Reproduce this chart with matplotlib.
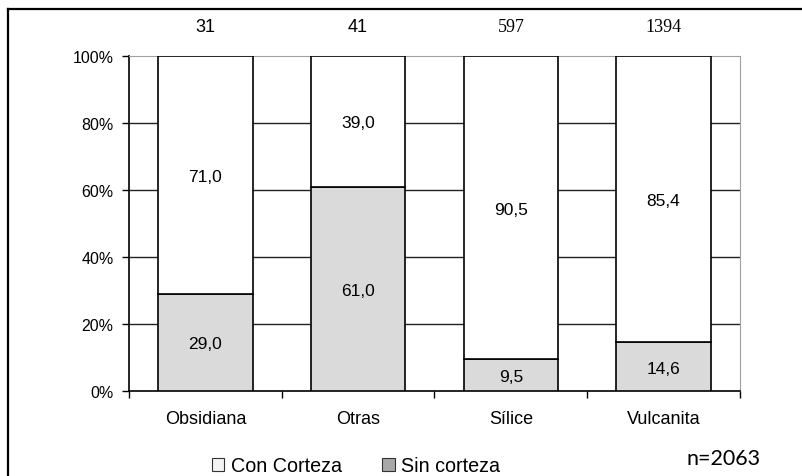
import matplotlib.pyplot as plt
from matplotlib.patches import Patch
from matplotlib.lines import Line2D

# Data
categories = ['Obsidiana', 'Otras', 'Sílice', 'Vulcanita']
sin_corteza = [29.0, 61.0, 9.5, 14.6]
con_corteza = [71.0, 39.0, 90.5, 85.4]
counts = ['31', '41', '597', '1394']
count_serif = [False, False, True, True]
y_ticks = [0, 20, 40, 60, 80, 100]
total_label = 'n=2063'

plt.rcParams['font.family'] = ['Liberation Sans', 'DejaVu Sans']

fig = plt.figure(figsize=(8.03, 4.77), dpi=100)
ax = fig.add_axes([129 / 803, 85 / 477, 611 / 803, 335 / 477])

x = range(len(categories))
ax.bar(x, sin_corteza, width=0.62, color='#dadada', edgecolor='black',
       linewidth=1.2, zorder=3)
ax.bar(x, con_corteza, bottom=sin_corteza, width=0.62, color='white',
       edgecolor='black', linewidth=1.2, zorder=3)

for i in x:
    ax.text(i, sin_corteza[i] / 2, f"{sin_corteza[i]:.1f}".replace('.', ','),
            ha='center', va='center_baseline', fontsize=12.5, zorder=4)
    ax.text(i, sin_corteza[i] + con_corteza[i] / 2,
            f"{con_corteza[i]:.1f}".replace('.', ','),
            ha='center', va='center_baseline', fontsize=12.5, zorder=4)
    if count_serif[i]:
        ax.text(i, 108.8, counts[i], ha='center', va='center', fontsize=13,
                family=['Liberation Serif'], clip_on=False)
    else:
        ax.text(i, 108.8, counts[i], ha='center', va='center', fontsize=13,
                clip_on=False)

ax.set_xlim(-0.5, len(categories) - 0.5)
ax.set_ylim(0, 100)
ax.set_yticks(y_ticks)
ax.set_yticklabels([f"{t}%" for t in y_ticks], fontsize=11.5)
ax.set_xticks([i - 0.5 for i in range(len(categories) + 1)])
ax.set_xticklabels([])
ax.set_xticks(list(x), minor=True)
ax.set_xticklabels(categories, minor=True, fontsize=13)
ax.tick_params(axis='x', which='major', direction='out', length=5, width=1)
ax.tick_params(axis='x', which='minor', length=0, pad=14)
ax.tick_params(axis='y', direction='out', length=5, width=1, pad=6)

for t in [20, 40, 60, 80]:
    ax.axhline(t, color='#222222', linewidth=1, zorder=1)

ax.spines['top'].set_color('#a0a0a0')
ax.spines['right'].set_color('#a0a0a0')
ax.spines['left'].set_linewidth(1.2)
ax.spines['bottom'].set_linewidth(1.2)

# outer frame (top and left only)
fy = 1 - 10 / 477
fx = 8 / 803
fig.add_artist(Line2D([fx, 1], [fy, fy], color='black', linewidth=1.6,
                      transform=fig.transFigure))
fig.add_artist(Line2D([fx, fx], [0, fy], color='black', linewidth=1.6,
                      transform=fig.transFigure))

handles = [Patch(facecolor='#f4f4f4', edgecolor='#333333', linewidth=0.8, label='Con Corteza'),
           Patch(facecolor='#a8a8a8', edgecolor='#333333', linewidth=0.8, label='Sin corteza')]
fig.legend(handles=handles, loc='center', bbox_to_anchor=(356 / 803, 1 - 467 / 477),
           ncol=2, frameon=False, fontsize=14.2, handlelength=0.65, handleheight=0.65,
           handletextpad=0.35, columnspacing=2.0, borderpad=0)

fig.text(724 / 803, 1 - 459 / 477, total_label, ha='center', va='center',
         fontsize=15.5, family=['Lato', 'DejaVu Sans'])

fig.savefig('out.png', dpi=100)
